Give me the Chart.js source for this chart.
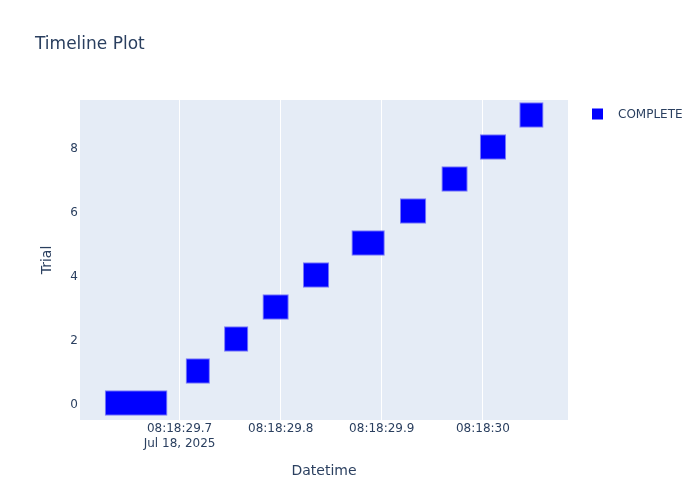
<!DOCTYPE html>
<html lang="en">
<head>
    <meta charset="UTF-8">
    <title>Timeline Plot</title>
    <script src="https://cdn.jsdelivr.net/npm/chart.js"></script>
    <style>
        body { margin: 0; background: #fff; }
        #wrap { width: 700px; height: 500px; position: relative; }
    </style>
</head>
<body>
    <div id="wrap"><canvas id="timelineChart"></canvas></div>

    <script>
        // Trials and their start / end times, in seconds after 08:18:00 (Jul 18, 2025)
        const trials = [0, 1, 2, 3, 4, 5, 6, 7, 8, 9];
        const startSec = [29.626, 29.706, 29.744, 29.782, 29.822, 29.870, 29.918, 29.959, 29.997, 30.036];
        const endSec = [29.688, 29.730, 29.768, 29.808, 29.848, 29.903, 29.944, 29.985, 30.023, 30.060];
        const state = 'COMPLETE';

        // Axis ticks
        const xTickValues = [29.7, 29.8, 29.9, 30.0];
        const xTickLabels = [['08:18:29.7', 'Jul 18, 2025'], '08:18:29.8', '08:18:29.9', '08:18:30'];
        const yTickValues = [0, 2, 4, 6, 8];

        const fontFamily = '"DejaVu Sans", verdana, arial, sans-serif';
        const textColor = '#2a3f5f';

        // Fondo del área del gráfico y textos de estilo plotly
        const plotlyDecor = {
            id: 'plotlyDecor',
            beforeDraw(chart) {
                const { ctx, chartArea: a } = chart;
                ctx.save();
                ctx.fillStyle = '#e5ecf6';
                ctx.fillRect(a.left, a.top, a.right - a.left, a.bottom - a.top);
                ctx.restore();
            },
            afterDraw(chart) {
                const { ctx, chartArea: a } = chart;
                ctx.save();
                ctx.fillStyle = textColor;
                ctx.textBaseline = 'middle';

                // title
                ctx.font = '17px ' + fontFamily;
                ctx.textAlign = 'left';
                ctx.fillText('Timeline Plot', 35, 45);

                // axis titles
                ctx.font = '14px ' + fontFamily;
                ctx.textAlign = 'center';
                ctx.fillText('Datetime', (a.left + a.right) / 2, 471);
                ctx.translate(47, (a.top + a.bottom) / 2);
                ctx.rotate(-Math.PI / 2);
                ctx.fillText('Trial', 0, 0);
                ctx.setTransform(1, 0, 0, 1, 0, 0);

                // legend
                ctx.fillStyle = '#0000ff';
                ctx.fillRect(592, 108.5, 11, 11);
                ctx.fillStyle = textColor;
                ctx.font = '12px ' + fontFamily;
                ctx.textAlign = 'left';
                ctx.fillText(state, 618, 114.5);
                ctx.restore();
            }
        };

        const ctx = document.getElementById('timelineChart').getContext('2d');

        new Chart(ctx, {
            type: 'bar',
            data: {
                datasets: [{
                    label: state,
                    data: trials.map((t, i) => ({ x: [startSec[i], endSec[i]], y: t })),
                    backgroundColor: '#0000ff',
                    borderColor: '#7a7af7',
                    borderWidth: 1,
                    borderSkipped: false,
                    categoryPercentage: 0.8,
                    barPercentage: 1.0
                }]
            },
            options: {
                indexAxis: 'y',
                responsive: true,
                maintainAspectRatio: false,
                animation: false,
                layout: { padding: { left: 0, right: 132, top: 100, bottom: 0 } },
                plugins: {
                    legend: { display: false },
                    title: { display: false },
                    tooltip: { enabled: false }
                },
                scales: {
                    x: {
                        type: 'linear',
                        min: 29.6015,
                        max: 30.0842,
                        afterBuildTicks: (scale) => { scale.ticks = xTickValues.map(v => ({ value: v })); },
                        afterFit: (scale) => { scale.height = 80; },
                        grid: { color: '#ffffff', lineWidth: 1, drawTicks: false, tickLength: 0 },
                        border: { display: false },
                        ticks: {
                            padding: 2,
                            maxRotation: 0,
                            autoSkip: false,
                            color: textColor,
                            font: { family: fontFamily, size: 12 },
                            callback: (value, index) => xTickLabels[index]
                        }
                    },
                    y: {
                        type: 'linear',
                        offset: false,
                        min: -0.53,
                        max: 9.47,
                        afterBuildTicks: (scale) => { scale.ticks = yTickValues.map(v => ({ value: v })); },
                        afterFit: (scale) => { scale.width = 80; },
                        grid: { display: false, drawTicks: false, tickLength: 0 },
                        border: { display: false },
                        ticks: {
                            padding: 2,
                            labelOffset: 2,
                            color: textColor,
                            font: { family: fontFamily, size: 12 }
                        }
                    }
                }
            },
            plugins: [plotlyDecor]
        });
    </script>
</body>
</html>
